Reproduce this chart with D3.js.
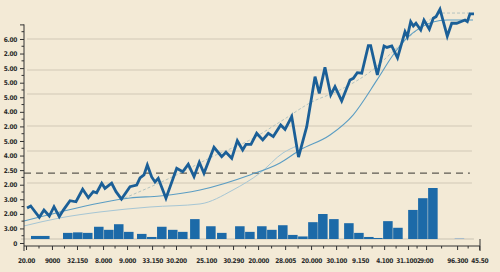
<html>
<head>
<script src="https://cdn.jsdelivr.net/npm/d3@7"></script>
<style>
  body { margin: 0; background: #f3ead6; }
  text { font-family: "DejaVu Sans Condensed", "Liberation Sans Narrow", sans-serif; font-weight: bold; letter-spacing: -0.3px; }
</style>
</head>
<body>
<script>
// tick labels
var yLabels = ["0","3.00","2.00","3.00","2.00","2.50","4.00","5.00","2.00","4.00","5.00","5.00","5.00","2.00","6.00"];
var xLabels = ["20.00","9000","32.150","8.000","9.000","33.150","30.200","25.100","30.290","20.000","28.005","20.000","30.100","9.150","4.100","31.1002","9:00","96.300","45.50"];
var xLabelAt = [0.2,2.76,5.23,7.8,10.17,12.64,15.0,17.97,20.63,23.1,25.77,28.33,30.8,33.17,35.54,37.9,39.68,42.74,44.92];

// price line
var lineX = [0.30,0.66,1.51,1.97,2.50,2.96,3.48,3.88,4.54,5.13,5.79,6.35,6.84,7.17,7.67,7.99,8.65,9.08,9.62,10.46,
  11.12,11.45,11.84,12.17,12.60,12.93,13.25,14.01,15.07,15.66,16.21,16.78,17.30,17.76,18.75,19.51,19.93,20.50,21.05,21.58,
  21.91,22.40,22.96,23.56,24.11,24.60,25.33,25.76,26.42,27.09,27.90,28.72,29.14,29.70,30.27,30.69,31.35,32.17,32.50,32.89,
  33.33,33.98,34.21,34.87,35.53,35.82,36.29,36.86,37.60,37.83,38.16,38.42,38.68,39.15,39.47,40.00,40.39,40.66,41.05,41.77,
  42.21,42.70,43.52,43.75,44.01,44.41];
var lineY = [2.40,2.54,1.76,2.26,1.85,2.49,1.80,2.26,2.90,2.83,3.69,3.11,3.52,3.45,4.10,3.75,4.10,3.52,3.02,3.86,
  3.98,4.46,4.67,5.35,4.53,4.19,4.44,3.07,5.13,4.89,5.40,4.55,5.54,4.78,6.57,5.92,6.22,5.81,7.02,6.38,
  6.77,6.77,7.53,7.07,7.53,7.30,8.10,7.80,8.68,5.90,7.98,11.41,10.27,12.06,10.16,10.73,9.75,11.19,11.30,11.69,
  11.65,13.54,13.54,11.53,13.52,13.42,13.52,12.70,14.50,14.16,15.19,14.89,15.08,14.62,15.30,14.67,15.42,15.53,16.04,14.19,
  15.08,15.08,15.30,15.19,15.72,15.72];

// smoothed trend curves
var trendAX = [0,3.55,7.5,10.46,13.42,17.37,22.30,25.26,27.24,30.20,32.47,34.84,36.42,37.80,39.08,40.36,41.74,44.31];
var trendAY = [1.51,2.13,2.75,3.09,3.23,3.64,4.67,5.49,6.38,7.41,8.78,11.19,12.90,14.07,14.76,15.17,15.30,15.30];
var trendBX = [9.47,14.41,18.95,22.30,25.56,28.22,31.18,34.15,37.11,39.08,41.35,44.01];
var trendBY = [2.95,4.46,6.04,7.07,8.44,9.61,10.50,11.74,13.59,14.76,15.78,15.78];
var trendCX = [0,3.55,7.5,12.43,17.37,20.63,23.29,25.56,26.94];
var trendCY = [1.17,1.72,2.13,2.47,2.68,3.64,4.80,6.18,6.66];

// volume bars
var barX = [0.69,1.58,3.85,4.84,5.82,6.91,7.90,8.88,9.87,11.15,12.14,13.13,14.21,15.20,16.39,17.97,19.05,20.83,21.82,23.00,
  23.99,25.07,26.06,27.05,28.04,29.02,30.11,31.59,32.58,33.56,34.45,35.44,36.43,37.91,38.89,39.88];
var barV = [6,6,12,13,12,24,18,29,14,10,4,24,18,14,39,25,12,25,14,25,18,27,8,5,33,49,39,31,12,4,2,35,22,57,80,100];

var gridY = [14.0,11.87,10.23,8.03,6.31,4.12];
var refLevel = 4.80;

var W = 500, H = 272;
var svg = d3.select("body").append("svg").attr("width", W).attr("height", H);

var x = d3.scaleLinear().domain([0, 45]).range([24, 480]);
var y = d3.scaleLinear().domain([0, 15]).range([243, 24.4]);
var yVol = d3.scaleLinear().domain([0, 100]).range([239, 188]);

// grid
svg.append("g").selectAll("line").data(gridY).enter().append("line")
  .attr("x1", x(0.3)).attr("x2", x(44.2))
  .attr("y1", d => y(d)).attr("y2", d => y(d))
  .attr("stroke", "#dcd3c0").attr("stroke-width", 1.5);

// bar baseline
svg.append("line").attr("x1", 21).attr("x2", x(44.4))
  .attr("y1", yVol(0)).attr("y2", yVol(0))
  .attr("stroke", "#c9c3b3").attr("stroke-width", 1);

// bars
var bw = x(1) - x(0) - 0.6;
svg.append("g").selectAll("rect").data(barX).enter().append("rect")
  .attr("x", d => x(d))
  .attr("y", (d, i) => yVol(barV[i]))
  .attr("width", bw)
  .attr("height", (d, i) => yVol(0) - yVol(barV[i]))
  .attr("fill", "#1c6aa8");
svg.append("rect").attr("x", x(42.5)).attr("y", yVol(2)).attr("width", bw)
  .attr("height", yVol(0) - yVol(2)).attr("fill", "#a9bccb");

// dashed reference
svg.append("line").attr("x1", x(0)).attr("x2", x(44.0))
  .attr("y1", y(refLevel)).attr("y2", y(refLevel))
  .attr("stroke", "#5e5a52").attr("stroke-width", 1.2).attr("stroke-dasharray", "7,5");

// trends
var smooth = d3.line().curve(d3.curveMonotoneX).x(d => x(d[0])).y(d => y(d[1]));
svg.append("path").attr("d", smooth(d3.zip(trendCX, trendCY)))
  .attr("fill", "none").attr("stroke", "#a6c6d4").attr("stroke-width", 1);
svg.append("path").attr("d", smooth(d3.zip(trendBX, trendBY)))
  .attr("fill", "none").attr("stroke", "#b4c4c0").attr("stroke-width", 1).attr("stroke-dasharray", "3,2");
svg.append("path").attr("d", smooth(d3.zip(trendAX, trendAY)))
  .attr("fill", "none").attr("stroke", "#5b9dc3").attr("stroke-width", 1.1);

// main line
svg.append("path")
  .attr("d", d3.line().x(d => x(d[0])).y(d => y(d[1]))(d3.zip(lineX, lineY)))
  .attr("fill", "none").attr("stroke", "#1b5f97").attr("stroke-width", 2.8)
  .attr("stroke-linejoin", "miter");

// y axis
var yAxis = svg.append("g").attr("transform", "translate(24,0)")
  .call(d3.axisLeft(y).tickValues(d3.range(0, 16)).tickSize(4).tickPadding(3)
    .tickFormat(d => d < yLabels.length ? yLabels[d] : ""));
yAxis.select(".domain").attr("d", "M0," + y(15) + "V251").attr("stroke", "#333");
yAxis.selectAll(".tick line").attr("stroke", "#333");
yAxis.selectAll("text").attr("font-size", 6.5).attr("fill", "#2a2a2a");
yAxis.append("g").selectAll("line").data(d3.range(0.5, 15, 1)).enter().append("line")
  .attr("x1", -2.5).attr("x2", 0).attr("y1", d => y(d)).attr("y2", d => y(d)).attr("stroke", "#333");

// x axis
var xAxis = svg.append("g").attr("transform", "translate(0,246)")
  .call(d3.axisBottom(x).tickValues(xLabelAt).tickSize(4).tickPadding(8)
    .tickFormat((d, i) => xLabels[i]));
xAxis.select(".domain").attr("d", "M24,0H480").attr("stroke", "#333");
xAxis.selectAll(".tick line").attr("stroke", "#333");
xAxis.selectAll("text").attr("font-size", 6.5).attr("fill", "#2a2a2a");
xAxis.append("line").attr("x1", 480).attr("x2", 480).attr("y1", -7).attr("y2", 5).attr("stroke", "#333");
var mids = xLabelAt.slice(1).map((d, i) => (d + xLabelAt[i]) / 2);
xAxis.append("g").selectAll("line").data(mids).enter().append("line")
  .attr("x1", d => x(d)).attr("x2", d => x(d)).attr("y1", 0).attr("y2", 2.5).attr("stroke", "#333");
</script>
</body>
</html>
